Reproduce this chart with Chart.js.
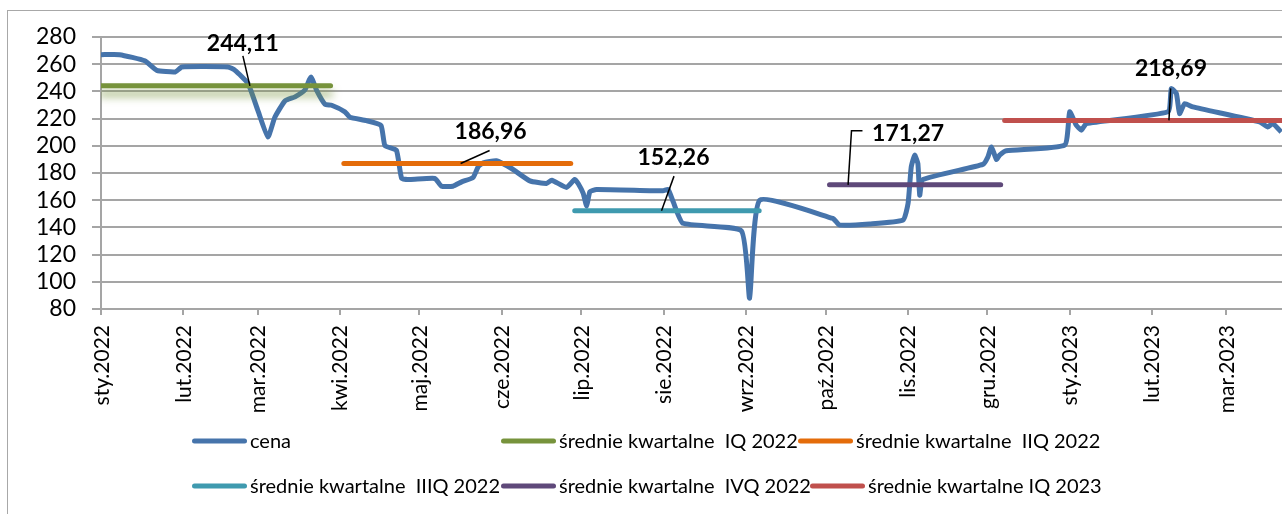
<!DOCTYPE html>
<html>
<head>
<meta charset="utf-8">
<script src="https://cdn.jsdelivr.net/npm/chart.js@4.4.1/dist/chart.umd.min.js"></script>
<style>
  html, body { margin: 0; padding: 0; background: #fff; overflow: hidden; }
  #wrap { position: relative; width: 1282px; height: 514px; }
  #frame { position: absolute; left: 7px; top: 10px; width: 1300px; height: 520px;
           border: 1.5px solid #a8a8a8; box-sizing: border-box; pointer-events: none; }
</style>
</head>
<body>
<div id="wrap">
  <div id="frame"></div>
  <canvas id="chart"></canvas>
</div>
<script>
// x axis: days counted from 1 Jan 2022, one tick per month
const monthDays = [0, 31, 59, 90, 120, 151, 181, 212, 243, 273, 304, 334, 365, 396, 424];
const monthLabels = ["sty.2022", "lut.2022", "mar.2022", "kwi.2022", "maj.2022", "cze.2022",
  "lip.2022", "sie.2022", "wrz.2022", "paź.2022", "lis.2022", "gru.2022",
  "sty.2023", "lut.2023", "mar.2023"];

// cena
const priceDays = [0, 7, 16.5, 21, 28, 30.5, 47.8, 50.5, 55.4, 59.1, 62.9, 65.5, 69.3, 73.1, 76.8,
  79.1, 81.2, 84.4, 86.9, 91.9, 93.8, 100, 105.5, 107, 111.3, 113.3, 116.4, 125.8, 128.3, 132.6,
  135.9, 140.2, 142.1, 144, 149, 154.7, 161.6, 167.9, 169.8, 175.4, 178.5, 179.8, 181.7, 183,
  184.2, 186.7, 211.8, 213.7, 215.6, 219.3, 241.3, 244.4, 248.2, 275.8, 277.1, 278.3, 289.6,
  302.2, 304.1, 305.3, 306.6, 307.8, 308.5, 309.7, 332.3, 334.2, 335.5, 337.4, 338.6, 341.1,
  363.1, 365, 367.5, 369.4, 371.3, 402, 403.3, 405.2, 406.4, 408.3, 411.4, 436.5, 439.6,
  441.5, 444.7];
const priceValues = [267, 267, 262.5, 255.5, 254.3, 258, 258, 255.5, 245.8, 226, 206.5, 221, 233,
  236, 241, 250.6, 241, 230.6, 229.8, 225, 221, 218.5, 215, 200, 196.8, 176, 175.2, 176, 170.3,
  170.3, 173.5, 176.7, 184.5, 187.5, 189, 183.3, 174.2, 172.3, 174.7, 169.4, 175.3, 172.3, 165,
  155.6, 166.2, 167.9, 166.9, 167.9, 158.8, 143, 137.5, 88, 160, 146.6, 144, 141.7, 142.5,
  145.4, 157.6, 184.5, 193.1, 187, 163.7, 175.2, 186.3, 191.9, 199.2, 190, 193.1, 196.3,
  200.5, 225, 215.1, 211.5, 216.4, 225, 242, 238.4, 223.7, 231, 228.6, 217.6, 213.9,
  216.4, 210.2];

// średnie kwartalne
const meanNames = ["średnie kwartalne  IQ 2022", "średnie kwartalne  IIQ 2022",
  "średnie kwartalne  IIIQ 2022", "średnie kwartalne  IVQ 2022", "średnie kwartalne IQ 2023"];
const meanValues = [244.11, 186.96, 152.26, 171.27, 218.69];
const meanStart = [0, 91.5, 178.5, 274.5, 340.5];
const meanEnd = [86.5, 177, 248, 339, 445];
const meanLabelDays = [56.1, 135.5, 211.2, 281.5, 402.4];

const yTicks = { min: 80, max: 280, step: 20 };

const colors = ["#4674ab", "#77933c", "#e46c0a", "#3f9aaf", "#5f497a", "#c0504d"];
const gridColor = "#a5a5a5";

// label text offsets and leader lines, in pixels from the anchor point
const labelStyle = [
  { dx: -7, dy: -43, leader: [[0, 0], [-7, -30]] },
  { dx: 30, dy: -33, leader: [[0, 0], [29, -13]] },
  { dx: 12, dy: -54, leader: [[0, 0], [12.5, -34.6]] },
  { dx: 60, dy: -52, leader: [[0, 0], [3.4, -54], [14.4, -54]] },
  { dx: 2, dy: -52, leader: [[0, 0], [1.7, -32]] }
];

// legend slots (Excel lays them out in two rows)
const legendSlots = [
  { x: 192, y: 441 }, { x: 501, y: 441 }, { x: 798, y: 441 },
  { x: 192, y: 486 }, { x: 501, y: 486 }, { x: 810, y: 486 }
];

const datasets = [{
  label: "cena",
  data: priceDays.map((d, i) => ({ x: d, y: priceValues[i] })),
  borderColor: colors[0],
  borderWidth: 5,
  tension: 0.15,
  pointRadius: 0,
  order: 10
}];
meanValues.forEach((v, i) => {
  datasets.push({
    label: meanNames[i],
    data: [{ x: meanStart[i], y: v }, { x: meanEnd[i], y: v }],
    borderColor: colors[i + 1],
    borderWidth: 5,
    borderCapStyle: "round",
    pointRadius: 0,
    order: 1
  });
});

// soft shadow under the first quarter line, like the Excel effect
const shadowPlugin = {
  id: "shadow",
  beforeDatasetDraw(chart, args) {
    if (args.index !== 1) return;
    const ctx = chart.ctx;
    ctx.save();
    ctx.shadowColor = "rgba(119,147,60,0.75)";
    ctx.shadowBlur = 9;
    ctx.shadowOffsetY = 8;
  },
  afterDatasetDraw(chart, args) {
    if (args.index === 1) chart.ctx.restore();
  }
};

// rotated month labels
const monthLabelPlugin = {
  id: "monthLabels",
  afterDraw(chart) {
    const ctx = chart.ctx;
    const xs = chart.scales.x;
    const top = chart.chartArea.bottom + 16;
    ctx.save();
    ctx.fillStyle = "#000";
    ctx.font = "21px Lato";
    ctx.textAlign = "right";
    ctx.textBaseline = "alphabetic";
    monthDays.forEach((d, i) => {
      const x = xs.getPixelForValue(d);
      ctx.save();
      ctx.translate(x, top);
      ctx.rotate(-Math.PI / 2);
      ctx.fillText(monthLabels[i], 0, 7.5);
      ctx.restore();
    });
    ctx.restore();
  }
};

// value labels of the quarter averages
const meanLabelPlugin = {
  id: "meanLabels",
  afterDatasetsDraw(chart) {
    const ctx = chart.ctx;
    const xs = chart.scales.x, ys = chart.scales.y;
    ctx.save();
    ctx.strokeStyle = "#000";
    ctx.lineWidth = 1.5;
    ctx.fillStyle = "#000";
    ctx.font = "bold 23px Lato";
    ctx.textAlign = "center";
    ctx.textBaseline = "alphabetic";
    meanValues.forEach((v, i) => {
      const ax = xs.getPixelForValue(meanLabelDays[i]);
      const ay = ys.getPixelForValue(v);
      const st = labelStyle[i];
      ctx.beginPath();
      st.leader.forEach((p, j) => {
        if (j === 0) ctx.moveTo(ax + p[0], ay + p[1]);
        else ctx.lineTo(ax + p[0], ay + p[1]);
      });
      ctx.stroke();
      ctx.fillText(v.toFixed(2).replace(".", ","), ax + st.dx, ay + st.dy + 8);
    });
    ctx.restore();
  }
};

const legendPlugin = {
  id: "slotLegend",
  afterDraw(chart) {
    const ctx = chart.ctx;
    ctx.save();
    ctx.font = "20px Lato";
    ctx.textAlign = "left";
    ctx.textBaseline = "alphabetic";
    ctx.lineCap = "round";
    ctx.lineWidth = 5;
    chart.data.datasets.forEach((ds, i) => {
      const s = legendSlots[i];
      ctx.strokeStyle = ds.borderColor;
      ctx.beginPath();
      ctx.moveTo(s.x + 2.5, s.y);
      ctx.lineTo(s.x + 52.5, s.y);
      ctx.stroke();
      ctx.fillStyle = "#000";
      ctx.fillText(ds.label, s.x + 58, s.y + 7);
    });
    ctx.restore();
  }
};

function draw() {
  new Chart(document.getElementById("chart"), {
    type: "line",
    data: { datasets },
    options: {
      responsive: true,
      maintainAspectRatio: false,
      animation: false,
      events: [],
      layout: { padding: { top: 37, left: 0, right: 0, bottom: 0 } },
      plugins: { legend: { display: false }, tooltip: { enabled: false } },
      scales: {
        x: {
          type: "linear",
          min: monthDays[0],
          max: 445,
          afterBuildTicks: s => { s.ticks = monthDays.map(v => ({ value: v })); },
          afterFit: s => { s.height = 205; },
          ticks: { display: false },
          grid: { drawOnChartArea: false, drawTicks: true, tickLength: 6, color: gridColor, lineWidth: 2 },
          border: { color: gridColor, width: 2 }
        },
        y: {
          min: yTicks.min,
          max: yTicks.max,
          afterFit: s => { s.width = 101; },
          ticks: { stepSize: yTicks.step, autoSkip: false, padding: 16, color: "#000",
                   font: { family: "Lato", size: 23 } },
          grid: { color: gridColor, lineWidth: 2, tickLength: 9 },
          border: { color: gridColor, width: 2 }
        }
      }
    },
    plugins: [shadowPlugin, monthLabelPlugin, meanLabelPlugin, legendPlugin]
  });
}

Promise.all([
  document.fonts.load("23px Lato"),
  document.fonts.load("bold 23px Lato")
]).then(draw, draw);
</script>
</body>
</html>
